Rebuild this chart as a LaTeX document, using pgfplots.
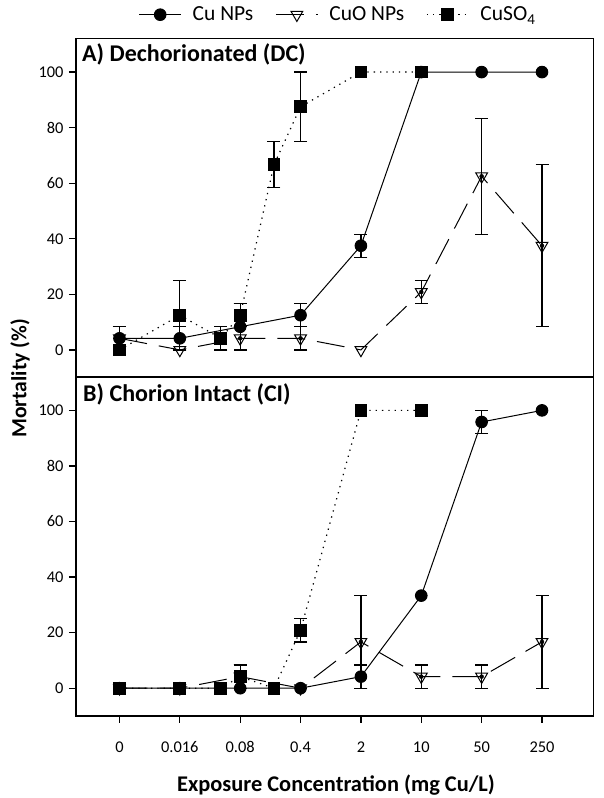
\documentclass[border=0pt]{standalone}
\usepackage{fontspec}
\setmainfont{Carlito}
\usepackage{pgfplots}
\usepackage{pgfplotstable}
\pgfplotsset{compat=1.18}

% panel A: dechorionated
\pgfplotstableread{
x y e
0 4.17 4.17
1 4.17 4.17
2 8.33 8.33
3 12.5 4.17
4 37.5 4.17
5 100 0
6 100 0
7 100 0
}\cuA
\pgfplotstableread{
x y e
0 4.17 4.17
1 0 0
2 4.17 4.17
3 4.17 4.17
4 0 0
5 20.83 4.17
6 62.5 20.83
7 37.5 29.17
}\cuoA
\pgfplotstableread{
x y e
0 0 0
1 12.5 12.5
1.68 4.17 4.17
2 12.5 4.17
2.56 66.67 8.33
3 87.5 12.5
4 100 0
5 100 0
}\soA

% panel B: chorion intact
\pgfplotstableread{
x y e
0 0 0
1 0 0
2 0 0
3 0 0
4 4.17 4.17
5 33.33 0
6 95.83 4.17
7 100 0
}\cuB
\pgfplotstableread{
x y e
0 0 0
1 0 0
2 4.17 4.17
3 0 0
4 16.67 16.67
5 4.17 4.17
6 4.17 4.17
7 16.67 16.67
}\cuoB
\pgfplotstableread{
x y e
0 0 0
1 0 0
1.68 0 0
2 4.17 4.17
2.56 0 0
3 20.83 4.17
4 100 0
5 100 0
}\soB

\pgfplotsset{
  panel/.style={width=517.3pt, height=339.5pt, scale only axis,
    xmin=-0.72, xmax=7.85, ymin=-10, ymax=112.2,
    ytick={0,20,...,100}, ytick pos=left, tick align=outside,
    major tick length=7pt,
    axis line style={line width=1.3pt},
    tick style={line width=1.2pt, black},
    tick label style={font=\fontsize{16.4}{19}\selectfont},
    yticklabel style={xshift=-2pt},
    xticklabel style={yshift=-15pt},
    /pgf/number format/assume math mode=true},
  cu/.style={black, solid, line width=1pt, mark=*, mark size=5.8pt,
    mark options={solid, fill=black}},
  cuo/.style={black, line width=1pt, dash pattern=on 28pt off 12pt,
    mark=triangle, mark size=6.8pt, mark options={solid, rotate=180}},
  so4/.style={black, line width=1.2pt, dash pattern=on 1.3pt off 5pt,
    mark=square*, mark size=5.8pt, mark options={solid, fill=black}},
  eb/.style={only marks, mark=none, forget plot,
    filter discard warning=false,
    y filter/.expression={\thisrow{e}>0 ? y : nan},
    error bars/.cd, y dir=both, y explicit,
    error bar style={solid, black, line width=1.2pt},
    error mark options={rotate=90, mark size=6.5pt, solid, black, line width=1.2pt}},
}
\tikzset{ttl/.style={anchor=base west, inner sep=0pt, font=\bfseries\fontsize{24}{28}\selectfont}}

\begin{document}
\begin{tikzpicture}
\path[use as bounding box] (0pt,0pt) rectangle (604pt,798pt);

\begin{axis}[panel, at={(76pt,420.3pt)}, anchor=south west, xtick=\empty,
    legend columns=3,
    legend style={at={(0.115,1)}, anchor=west, yshift=23.5pt, draw=none,
      fill=none, font=\fontsize{21.5}{25}\selectfont,
      /tikz/every odd column/.append style={column sep=9pt},
      /tikz/every even column/.append style={column sep=20pt}},
    legend image code/.code={\draw[mark repeat=2, mark phase=2]
      plot coordinates {(0pt,0pt) (21pt,0pt) (42pt,0pt)};}]
\addplot[cu] table[x=x, y=y] {\cuA};
\addlegendentry{Cu NPs}
\addplot[cuo] table[x=x, y=y] {\cuoA};
\addlegendentry{CuO NPs}
\addplot[so4] table[x=x, y=y] {\soA};
\addlegendentry{CuSO\textsubscript{4}}
\addplot[eb] table[x=x, y=y, y error=e] {\cuA};
\addplot[eb] table[x=x, y=y, y error=e] {\cuoA};
\addplot[eb] table[x=x, y=y, y error=e] {\soA};
\node[ttl, xshift=6pt, yshift=-23.5pt] at (rel axis cs:0,1) {A) Dechorionated (DC)};
\end{axis}

\begin{axis}[panel, at={(76pt,82pt)}, anchor=south west,
    xtick={0,...,7}, xticklabels={0,0.016,0.08,0.4,2,10,50,250},
    xtick pos=bottom]
\addplot[cu] table[x=x, y=y] {\cuB};
\addplot[cuo] table[x=x, y=y] {\cuoB};
\addplot[so4] table[x=x, y=y] {\soB};
\addplot[eb] table[x=x, y=y, y error=e] {\cuB};
\addplot[eb] table[x=x, y=y, y error=e] {\cuoB};
\addplot[eb] table[x=x, y=y, y error=e] {\soB};
\node[ttl, xshift=7pt, yshift=-25pt] at (rel axis cs:0,1) {B) Chorion Intact (CI)};
\end{axis}

\node[rotate=90, font=\bfseries\fontsize{21.6}{25}\selectfont] at (20pt,419.5pt) {Mortality (\%)};
\node[font=\bfseries\fontsize{22.4}{26}\selectfont] at (336pt,13pt) {Exposure Concentration (mg Cu/L)};
\end{tikzpicture}
\end{document}
